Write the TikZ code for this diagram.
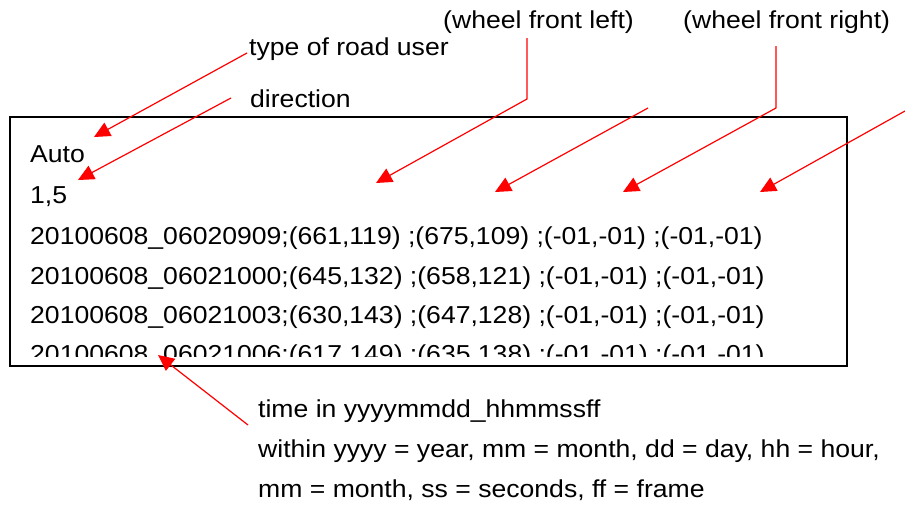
\documentclass[tikz,border=0pt]{standalone}
\usepackage{fontspec}
\setmainfont{Liberation Sans}
\newfontfamily\widefont[FakeStretch=1.085]{Liberation Sans}
\usetikzlibrary{arrows.meta}
\begin{document}
\begin{tikzpicture}[x=1pt,y=-1pt,
  txt/.style={anchor=base west, inner sep=0pt, font=\widefont\fontsize{24.5}{30}\selectfont},
  ptr/.style={draw=red, line width=1.2pt, -{Triangle[length=16pt,width=15pt]}}]
\useasboundingbox (0,0) rectangle (905,506);
% frame
\node (box) [draw, line width=1.5pt, anchor=north west, minimum width=837pt, minimum height=249pt, inner sep=0pt] at (9,116) {};
% content, clipped
\begin{scope}
\clip (9,116) rectangle (846,356.5);
\node (l0) [txt] at (30,162) {Auto};
\node (l1) [txt] at (30,203) {1,5};
\node (l2) [txt] at (30,244) {20100608\_06020909;(661,119) ;(675,109) ;(-01,-01) ;(-01,-01)};
\node (l3) [txt] at (30,284) {20100608\_06021000;(645,132) ;(658,121) ;(-01,-01) ;(-01,-01)};
\node (l4) [txt] at (30,323) {20100608\_06021003;(630,143) ;(647,128) ;(-01,-01) ;(-01,-01)};
\node (l5) [txt] at (30,362) {20100608\_06021006;(617,149) ;(635,138) ;(-01,-01) ;(-01,-01)};
\end{scope}
% labels
\node (lab1) [txt] at (249,55) {type of road user};
\node (lab2) [txt] at (250,107) {direction};
\node (lab3) [txt] at (443,28) {(wheel front left)};
\node (lab4) [txt] at (683,28) {(wheel front right)};
\node (lab5) [txt] at (258,417) {time in yyyymmdd\_hhmmssff};
\node (lab6) [txt] at (258,457) {within yyyy = year, mm = month, dd = day, hh = hour,};
\node (lab7) [txt] at (258,497) {mm = month, ss = seconds, ff = frame};
% arrow coordinates
\coordinate (t1) at (247,53);  \coordinate (h1) at (94,137);
\coordinate (t2) at (231,98);  \coordinate (h2) at (78,180);
\coordinate (t3) at (527,38);  \coordinate (k3) at (527,99);  \coordinate (h3) at (376,183);
\coordinate (t4) at (648,108); \coordinate (h4) at (495,192);
\coordinate (t5) at (776,46);  \coordinate (k5) at (776,108); \coordinate (h5) at (623,192);
\coordinate (t6) at (905,111); \coordinate (h6) at (760,192);
\coordinate (t7) at (248,425); \coordinate (h7) at (158,355);
\draw[ptr] (t1) -- (h1);
\draw[ptr] (t2) -- (h2);
\draw[ptr] (t3) -- (k3) -- (h3);
\draw[ptr] (t4) -- (h4);
\draw[ptr] (t5) -- (k5) -- (h5);
\draw[ptr] (t6) -- (h6);
\draw[ptr] (t7) -- (h7);
\end{tikzpicture}
\end{document}
